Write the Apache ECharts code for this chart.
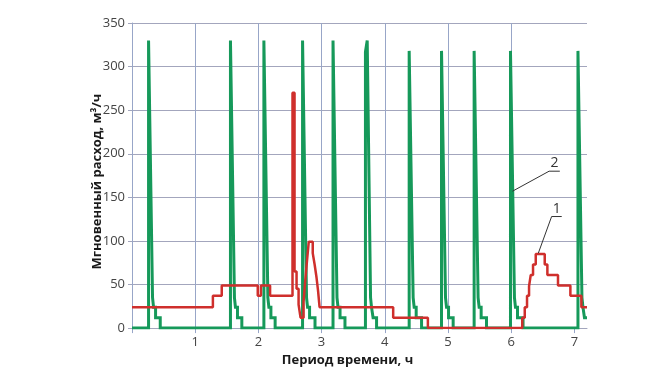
<!DOCTYPE html>
<html><head><meta charset="utf-8">
<script src="https://cdn.jsdelivr.net/npm/echarts@6/dist/echarts.min.js"></script>
<style>html,body{margin:0;padding:0;background:#fff}#c{width:663px;height:372px}</style>
</head><body><div id="c"></div>
<script>
const xName = 'Период времени, ч';
const yName = 'Мгновенный расход, м³/ч';
const xTickLabels = ['1', '2', '3', '4', '5', '6', '7'];
const yTickLabels = ['0', '50', '100', '150', '200', '250', '300', '350'];

// Curve 2 (green): [time, flow]
const flow2 = [
  [0, 0],
  [0.262, 0], [0.262, 330], [0.286, 330], [0.325, 35], [0.341, 35], [0.341, 24], [0.373, 24], [0.373, 12], [0.447, 12], [0.447, 0],
  [1.558, 0], [1.558, 330], [1.582, 330], [1.621, 35], [1.637, 35], [1.637, 24], [1.669, 24], [1.669, 12], [1.738, 12], [1.738, 0],
  [2.087, 0], [2.087, 330], [2.111, 330], [2.150, 35], [2.166, 35], [2.166, 24], [2.198, 24], [2.198, 12], [2.265, 12], [2.265, 0],
  [2.699, 0], [2.699, 330], [2.723, 330], [2.762, 35], [2.778, 35], [2.778, 24], [2.810, 24], [2.810, 12], [2.896, 12], [2.896, 0],
  [3.181, 0], [3.181, 330], [3.205, 330], [3.244, 35], [3.260, 35], [3.260, 24], [3.292, 24], [3.292, 12], [3.370, 12], [3.370, 0],
  [3.694, 0], [3.694, 317], [3.722, 317], [3.722, 330], [3.740, 330], [3.775, 35], [3.790, 35], [3.790, 24], [3.815, 24], [3.815, 12], [3.870, 12], [3.870, 0],
  [4.386, 0], [4.386, 318], [4.410, 318], [4.449, 35], [4.465, 35], [4.465, 24], [4.497, 24], [4.497, 12], [4.582, 12], [4.582, 0],
  [4.898, 0], [4.898, 318], [4.922, 318], [4.961, 35], [4.977, 35], [4.977, 24], [5.009, 24], [5.009, 12], [5.082, 12], [5.082, 0],
  [5.414, 0], [5.414, 318], [5.438, 318], [5.477, 35], [5.493, 35], [5.493, 24], [5.525, 24], [5.525, 12], [5.610, 12], [5.610, 0],
  [5.989, 0], [5.989, 318], [6.013, 318], [6.052, 35], [6.068, 35], [6.068, 24], [6.100, 24], [6.100, 12], [6.188, 12], [6.188, 0],
  [7.057, 0], [7.057, 318], [7.081, 318], [7.120, 35], [7.136, 35], [7.136, 24], [7.160, 24], [7.160, 12], [7.2, 12]
];

// Curve 1 (red): [time at which the flow changes, new flow]
const flow1 = [
  [0, 24], [1.28, 37], [1.42, 49], [1.99, 37], [2.04, 49], [2.185, 37],
  [2.54, 270], [2.572, 65], [2.604, 45], [2.636, 27], [2.667, 12], [2.715, 30],
  [2.742, 55], [2.770, 78], [2.797, 99], [2.860, 86], [2.890, 73], [2.920, 58],
  [2.944, 43], [2.968, 24], [4.133, 12], [4.682, 0], [6.175, 12], [6.215, 24],
  [6.251, 37], [6.283, 48], [6.310, 61], [6.346, 73], [6.389, 85], [6.531, 73],
  [6.573, 61], [6.741, 49], [6.937, 37], [7.111, 24], [7.2, 24]
];

// Callout leaders: [time, flow] points (curve anchor, elbow, underline end)
const note1 = [[6.43, 86], [6.64, 128], [6.80, 128]];
const note2 = [[6.02, 157], [6.60, 180], [6.77, 180]];
const noteLabels = ['1', '2'];

const FONT = 'Open Sans';
const chart = echarts.init(document.getElementById('c'), null, {renderer: 'canvas'});
chart.setOption({
  animation: false,
  backgroundColor: '#ffffff',
  grid: {left: 132, right: 76, top: 23, bottom: 41, containLabel: false},
  xAxis: {
    type: 'value', min: 0, max: 7.2, interval: 1,
    name: xName, nameLocation: 'middle', nameGap: 16,
    nameTextStyle: {fontFamily: FONT, fontWeight: 'bold', fontSize: 13, color: '#1a1a1a', verticalAlign: 'top', padding: [0, 24, 0, 0]},
    axisLine: {show: true, onZero: false, lineStyle: {color: '#a3a6bd', width: 1}},
    axisTick: {show: true, length: 5, lineStyle: {color: '#98a6c8'}, customValues: [0, 1, 2, 3, 4, 5, 6, 7]},
    axisLabel: {
      fontFamily: FONT, fontSize: 13, color: '#444', margin: 8,
      formatter: v => (Number.isInteger(v) && v >= 1 && v <= 7) ? xTickLabels[v - 1] : ''
    },
    splitLine: {show: true, showMaxLine: false, lineStyle: {color: '#98a6c8', width: 1}}
  },
  yAxis: {
    type: 'value', min: 0, max: 350, interval: 50,
    name: yName, nameLocation: 'middle', nameGap: 28, nameRotate: 90, nameMoveOverlap: false,
    nameTextStyle: {fontFamily: FONT, fontWeight: 'bold', fontSize: 13, color: '#1a1a1a', padding: [0, 12, 0, 0]},
    axisLine: {show: true, lineStyle: {color: '#98a6c8', width: 1}},
    axisTick: {show: true, length: 4, lineStyle: {color: '#a3a6bd'}},
    axisLabel: {fontFamily: FONT, fontSize: 13, color: '#444', margin: 7,
      formatter: v => yTickLabels[Math.round(v / 50)]},
    splitLine: {show: true, lineStyle: {color: '#a3a6bd', width: 1}}
  },
  series: [
    {name: '2', type: 'line', data: flow2, showSymbol: false, symbol: 'none',
      lineStyle: {color: '#16995a', width: 3, join: 'miter'}, z: 2},
    {name: '1', type: 'line', data: flow1, step: 'end', showSymbol: false, symbol: 'none',
      lineStyle: {color: '#cf2f2c', width: 2.5}, z: 3}
  ]
});

function notes() {
  const g = [];
  [note1, note2].forEach((n, i) => {
    const pts = n.map(p => chart.convertToPixel({gridIndex: 0}, p));
    g.push({type: 'polyline', shape: {points: pts}, style: {stroke: '#333', lineWidth: 1, fill: null}, z: 10});
    const last = pts[pts.length - 1], mid = pts[pts.length - 2];
    g.push({type: 'text', x: (last[0] + mid[0]) / 2, y: last[1] - 1,
      style: {text: noteLabels[i], fontFamily: FONT, fontSize: 14, fill: '#333', align: 'center', verticalAlign: 'bottom'}, z: 10});
  });
  chart.setOption({graphic: g});
}
notes();
</script>
</body></html>
